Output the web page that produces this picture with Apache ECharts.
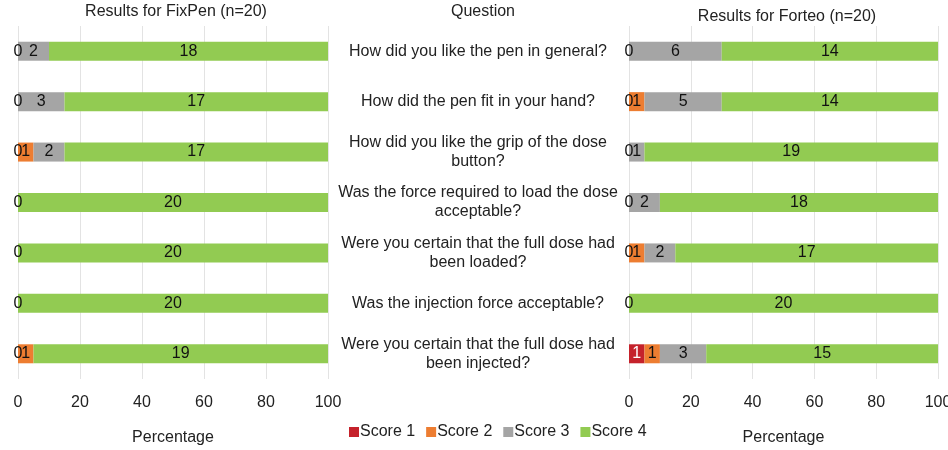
<!DOCTYPE html>
<html>
<head>
<meta charset="utf-8">
<script src="https://cdn.jsdelivr.net/npm/echarts@6/dist/echarts.min.js"></script>
<style>
  html, body { margin: 0; padding: 0; background: #fff; }
  #chart { width: 948px; height: 450px; }
</style>
</head>
<body>
<div id="chart"></div>
<script>
// questions, top to bottom
var questions = [
  'How did you like the pen in general?',
  'How did the pen fit in your hand?',
  'How did you like the grip of the dose\nbutton?',
  'Was the force required to load the dose\nacceptable?',
  'Were you certain that the full dose had\nbeen loaded?',
  'Was the injection force acceptable?',
  'Were you certain that the full dose had\nbeen injected?'
];
var scoreNames = ['Score 1', 'Score 2', 'Score 3', 'Score 4'];
var scoreColors = ['#C5222B', '#ED7D31', '#A5A5A5', '#92CB52'];
var n = 20;

// counts of patients per score
var fixpen1 = [0, 0, 0, 0, 0, 0, 0];
var fixpen2 = [0, 0, 1, 0, 0, 0, 1];
var fixpen3 = [2, 3, 2, 0, 0, 0, 0];
var fixpen4 = [18, 17, 17, 20, 20, 20, 19];

var forteo1 = [0, 0, 0, 0, 0, 0, 1];
var forteo2 = [0, 1, 0, 0, 1, 0, 1];
var forteo3 = [6, 5, 1, 2, 2, 0, 3];
var forteo4 = [14, 14, 19, 18, 17, 20, 15];

var xTicks = [0, 20, 40, 60, 80, 100];

var chart = echarts.init(document.getElementById('chart'));
var font = 'Liberation Sans, Arial, sans-serif';
var fs = 16;

function makeSeries(counts, idx, gridIdx) {
  return {
    name: scoreNames[idx],
    type: 'bar',
    stack: 'g' + gridIdx,
    xAxisIndex: gridIdx,
    yAxisIndex: gridIdx,
    barWidth: 19,
    itemStyle: { color: scoreColors[idx] },
    label: {
      show: true,
      position: 'inside',
      fontFamily: font,
      fontSize: fs,
      color: idx === 0 ? '#fff' : '#111',
      formatter: function (p) {
        var c = counts[p.dataIndex];
        if (c === 0 && idx !== 0) return '';
        if (c === 0) return '{z|0}';
        return c;
      },
      rich: { z: { color: '#111', fontSize: fs, fontFamily: font } }
    },
    data: counts.map(function (c) { return c / n * 100; })
  };
}

var xAxisBase = function (gridIdx) {
  return {
    type: 'value',
    gridIndex: gridIdx,
    min: 0,
    max: 100,
    interval: 20,
    name: 'Percentage',
    nameLocation: 'middle',
    nameGap: 51,
    nameTextStyle: { fontFamily: font, fontSize: fs, color: '#222' },
    axisLine: { show: false },
    axisTick: { show: false },
    axisLabel: {
      fontFamily: font, fontSize: fs, color: '#222', margin: 16,
      formatter: function (v) { return xTicks.indexOf(v) >= 0 ? String(v) : ''; }
    },
    splitLine: { show: true, lineStyle: { color: '#e3e3e3', width: 1 } }
  };
};

var option = {
  backgroundColor: '#fff',
  animation: false,
  title: [
    { text: 'Results for FixPen (n=20)', left: 171, top: -1, textAlign: 'center',
      textStyle: { fontFamily: font, fontSize: fs, fontWeight: 'normal', color: '#222' } },
    { text: 'Question', left: 478, top: -1, textAlign: 'center',
      textStyle: { fontFamily: font, fontSize: fs, fontWeight: 'normal', color: '#222' } },
    { text: 'Results for Forteo (n=20)', left: 782, top: 4, textAlign: 'center',
      textStyle: { fontFamily: font, fontSize: fs, fontWeight: 'normal', color: '#222' } }
  ],
  legend: {
    data: scoreNames,
    bottom: 5,
    left: 344,
    icon: 'rect',
    itemWidth: 10,
    itemHeight: 10,
    itemGap: 11,
    textStyle: { fontFamily: font, fontSize: fs, color: '#222', padding: [0, 0, 0, -4] }
  },
  grid: [
    { left: 18, width: 310, top: 26, bottom: 71, outerBoundsMode: 'none' },
    { left: 629, width: 309, top: 26, bottom: 71, outerBoundsMode: 'none' }
  ],
  xAxis: [xAxisBase(0), xAxisBase(1)],
  yAxis: [
    {
      type: 'category', gridIndex: 0, data: questions, inverse: true,
      axisLine: { show: false }, axisTick: { show: false }, axisLabel: { show: false }
    },
    {
      type: 'category', gridIndex: 1, data: questions, inverse: true,
      axisLine: { show: false }, axisTick: { show: false },
      axisLabel: {
        align: 'center', margin: 151, fontFamily: font, fontSize: fs,
        color: '#222', lineHeight: 19
      }
    }
  ],
  series: [
    makeSeries(fixpen1, 0, 0), makeSeries(fixpen2, 1, 0),
    makeSeries(fixpen3, 2, 0), makeSeries(fixpen4, 3, 0),
    makeSeries(forteo1, 0, 1), makeSeries(forteo2, 1, 1),
    makeSeries(forteo3, 2, 1), makeSeries(forteo4, 3, 1)
  ]
};

chart.setOption(option);
</script>
</body>
</html>
